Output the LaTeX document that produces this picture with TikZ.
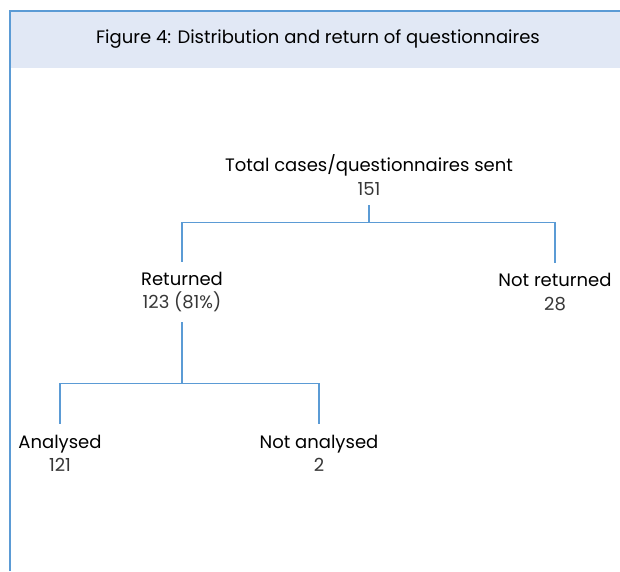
\documentclass[tikz,border=0pt]{standalone}
\usepackage{fontspec}
\setmainfont{Poppins}
\usepackage{tikz}
\definecolor{frameblue}{RGB}{91,155,213}
\definecolor{headfill}{RGB}{225,232,245}
\definecolor{numgray}{RGB}{55,55,55}

\begin{document}
\begin{tikzpicture}[x=0.75pt,y=0.75pt,yscale=-1,
	link/.style={color=frameblue,line width=1.1pt},
	leaf/.style={align=center,inner xsep=0pt,inner ysep=7.5pt,font=\fontsize{13.5}{17.5}\selectfont}]
	%set diagram size to the reference
	\useasboundingbox (0,0) rectangle (620,571);
	
	%Shape: Rectangle [id:header]
	\fill [headfill] (10,11) rectangle (620,68);
	%Straight Lines [id:frame]
	\draw [color=frameblue,line width=1.2pt] (10,571) -- (10,11) -- (620,11);
	
	% Text Node
	\node (title) at (318,39) [font=\fontsize{13.5}{16}\selectfont] {Figure 4: Distribution and return of questionnaires};
	
	% Text Node
	\node (total) at (369,175) [leaf] {Total cases/questionnaires sent\\\color{numgray}151};
	% Text Node
	\node (ret) at (182,292) [leaf] {Returned\\\color{numgray}123 (81\%)};
	% Text Node
	\node (notret) at (555,292) [leaf] {Not returned\\\color{numgray}28};
	% Text Node
	\node (anal) at (60,453) [leaf] {Analysed\\\color{numgray}121};
	% Text Node
	\node (notanal) at (319,453) [leaf] {Not analysed\\\color{numgray}2};
	
	%Straight Lines [id:branches]
	\draw [link] (total.south) -- ++(0,17) -| (ret.north);
	\draw [link] (total.south) -- ++(0,17) -| (notret.north);
	\draw [link] (ret.south) -- ++(0,61) -| (anal.north);
	\draw [link] (ret.south) -- ++(0,61) -| (notanal.north);
	
\end{tikzpicture}
\end{document}
